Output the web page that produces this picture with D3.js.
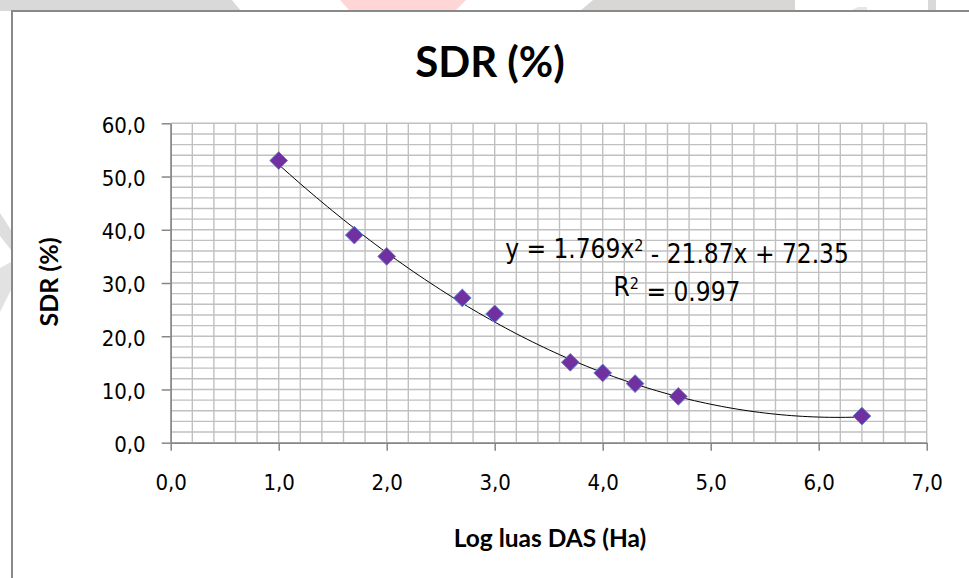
<!DOCTYPE html>
<html>
<head>
<meta charset="utf-8">
<script src="https://cdn.jsdelivr.net/npm/d3@7"></script>
<style>
  body { margin: 0; background: #fff; }
  svg { display: block; }
</style>
</head>
<body>
<div id="chart"></div>
<script>
// data
var logArea = [1.0, 1.7, 2.0, 2.7, 3.0, 3.7, 4.0, 4.3, 4.7, 6.4];
var sdr = [53.0, 39.0, 35.0, 27.2, 24.2, 15.1, 13.1, 11.1, 8.7, 5.0];
// trend line coefficients as printed on the chart (a x^2 + b x + c)
var trendCoef = [1.769, -21.87, 72.35];
var trendRange = [1.0, 6.4];
var xTicks = [0, 1, 2, 3, 4, 5, 6, 7];
var yTicks = [0, 10, 20, 30, 40, 50, 60];

var width = 969, height = 578;

var svg = d3.select("#chart").append("svg")
  .attr("width", width)
  .attr("height", height);

// faint watermark shapes of the page behind the chart
var shapes = [
  {pts: [[0,0],[232,0],[241,11],[0,11]], fill: "#d9d9d9"},
  {pts: [[340,0],[466,0],[455,11],[350,11]], fill: "#ffd6d6"},
  {pts: [[593,0],[795,0],[795,11],[580,11]], fill: "#d8d7d5"},
  {pts: [[850,11],[858,7],[867,7],[867,11]], fill: "#e6e6e6"},
  {pts: [[928,0],[936,0],[936,11],[928,11]], fill: "#d9d9d9"},
  {pts: [[0,213],[11,230],[11,250],[0,236]], fill: "#dedede"},
  {pts: [[0,268],[11,262],[11,290],[0,312]], fill: "#e2e2e2"}
];
svg.selectAll("polygon.wm")
  .data(shapes)
  .enter().append("polygon")
  .attr("class", "wm")
  .attr("points", function(d) { return d.pts.map(function(p) { return p.join(","); }).join(" "); })
  .attr("fill", function(d) { return d.fill; });

// chart area frame
svg.append("path")
  .attr("d", "M12,578 V11 H969")
  .attr("fill", "none")
  .attr("stroke", "#898989")
  .attr("stroke-width", 2);

var x = d3.scaleLinear().domain([0, 7]).range([170.7, 926.7]);
var y = d3.scaleLinear().domain([0, 60]).range([442.7, 123.3]);

var loc = d3.formatLocale({decimal: ",", thousands: ".", grouping: [3], currency: ["", ""]});
var fmt = loc.format(".1f");

var tickFont = "'DejaVu Sans Condensed', 'DejaVu Sans', sans-serif";

// gridlines
var grid = svg.append("g").attr("class", "grid");
grid.selectAll("line.v")
  .data(d3.range(0, 36).map(function(i) { return i * 0.2; }))
  .enter().append("line")
  .attr("x1", function(d) { return x(d); })
  .attr("x2", function(d) { return x(d); })
  .attr("y1", y(60)).attr("y2", y(0))
  .attr("stroke", "#c0c0c0")
  .attr("stroke-width", 1.4);
grid.selectAll("line.h")
  .data(d3.range(0, 31).map(function(i) { return i * 2; }))
  .enter().append("line")
  .attr("x1", x(0)).attr("x2", x(7))
  .attr("y1", function(d) { return y(d); })
  .attr("y2", function(d) { return y(d); })
  .attr("stroke", "#c0c0c0")
  .attr("stroke-width", 1.4);

// axes
var xAxis = svg.append("g")
  .attr("transform", "translate(0," + y(0) + ")")
  .call(d3.axisBottom(x).tickValues(xTicks).tickFormat(fmt).tickSize(8).tickSizeOuter(0).tickPadding(24));
var yAxis = svg.append("g")
  .attr("transform", "translate(" + x(0) + ",0)")
  .call(d3.axisLeft(y).tickValues(yTicks).tickFormat(fmt).tickSize(9).tickSizeOuter(0).tickPadding(16));

[xAxis, yAxis].forEach(function(a) {
  a.select(".domain").attr("stroke", "#868686").attr("stroke-width", 1.5);
  a.selectAll(".tick line").attr("stroke", "#868686").attr("stroke-width", 1.5);
  a.selectAll(".tick text")
    .attr("fill", "#000")
    .style("font-family", tickFont)
    .style("font-stretch", "condensed")
    .style("font-size", "22px");
});
yAxis.selectAll(".tick text").attr("dy", "0.4em");

// trend line
var trendX = d3.range(trendRange[0], trendRange[1] + 0.001, 0.05);
var line = d3.line()
  .x(function(d) { return x(d); })
  .y(function(d) { return y(trendCoef[0] * d * d + trendCoef[1] * d + trendCoef[2]); });
svg.append("path")
  .datum(trendX)
  .attr("d", line)
  .attr("fill", "none")
  .attr("stroke", "#000")
  .attr("stroke-width", 1);

// markers
var diamond = d3.symbol().type(d3.symbolDiamond2).size(200);
svg.selectAll("path.pt")
  .data(logArea)
  .enter().append("path")
  .attr("class", "pt")
  .attr("d", diamond)
  .attr("transform", function(d, i) { return "translate(" + x(d) + "," + y(sdr[i]) + ")"; })
  .attr("fill", "#7030a0")
  .attr("stroke", "#5a7fd8")
  .attr("stroke-width", 1);

// equation label
var eq = svg.append("text")
  .attr("x", 677).attr("y", 258)
  .attr("text-anchor", "middle")
  .style("font-family", tickFont)
  .style("font-stretch", "condensed")
  .style("font-size", "26px")
  .attr("fill", "#000");
eq.append("tspan").text("y = 1.769x");
eq.append("tspan").attr("dy", "-0.45em").style("font-size", "16px").text("2");
eq.append("tspan").attr("dy", "0.45em").text(" - 21.87x + 72.35");

var r2 = svg.append("text")
  .attr("x", 677).attr("y", 296)
  .attr("text-anchor", "middle")
  .style("font-family", tickFont)
  .style("font-stretch", "condensed")
  .style("font-size", "26px")
  .attr("fill", "#000");
r2.append("tspan").text("R");
r2.append("tspan").attr("dy", "-0.45em").style("font-size", "16px").text("2");
r2.append("tspan").attr("dy", "0.45em").text(" = 0.997");

// titles
svg.append("text")
  .attr("x", 490).attr("y", 77)
  .attr("text-anchor", "middle")
  .style("font-family", "Lato, 'Open Sans', sans-serif")
  .style("font-weight", "bold")
  .style("font-size", "42px")
  .text("SDR (%)");

svg.append("text")
  .attr("x", 550).attr("y", 547)
  .attr("text-anchor", "middle")
  .style("font-family", "Lato, 'Open Sans', sans-serif")
  .style("font-weight", "bold")
  .style("font-size", "24.5px")
  .text("Log luas DAS (Ha)");

svg.append("text")
  .attr("transform", "translate(58,282) rotate(-90)")
  .attr("text-anchor", "middle")
  .style("font-family", "Lato, 'Open Sans', sans-serif")
  .style("font-weight", "bold")
  .style("font-size", "25px")
  .text("SDR (%)");
</script>
</body>
</html>
